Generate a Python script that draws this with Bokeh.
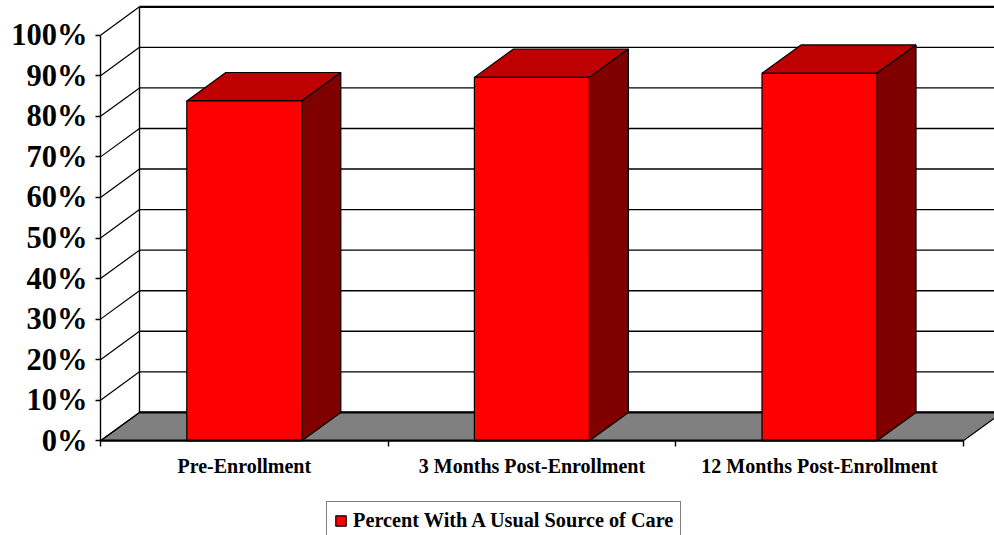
from bokeh.embed import file_html
from bokeh.models import FixedTicker, Legend, LegendItem, Range1d
from bokeh.plotting import figure
from bokeh.resources import INLINE

categories = ["Pre-Enrollment", "3 Months Post-Enrollment", "12 Months Post-Enrollment"]
usual_source_pct = [83.8, 89.6, 90.6]
pct_ticks = [0, 10, 20, 30, 40, 50, 60, 70, 80, 90, 100]
series_name = "Percent With A Usual Source of Care"

# Oblique 3D projection, expressed in axis units
PX_PER_CATEGORY = 287.6
PX_PER_PCT = 4.056
DEPTH_X = 39 / PX_PER_CATEGORY
DEPTH_Y = 28.4 / PX_PER_PCT
BAR_WIDTH = 0.4

FONT = "Liberation Serif"
WIDTH, HEIGHT = 994, 535
ORIGIN_X, ORIGIN_Y = 100, 440.3  # where (0, 0%) falls on the page

p = figure(
    frame_width=WIDTH, frame_height=HEIGHT,
    output_backend="svg", toolbar_location=None,
    min_border_left=0, min_border_right=0, min_border_top=0, min_border_bottom=0,
    x_range=Range1d(-ORIGIN_X / PX_PER_CATEGORY, (WIDTH - ORIGIN_X) / PX_PER_CATEGORY),
    y_range=Range1d(-(HEIGHT - ORIGIN_Y) / PX_PER_PCT, ORIGIN_Y / PX_PER_PCT),
    outline_line_color=None, background_fill_color="white", border_fill_color="white",
)
p.grid.visible = False

n = len(categories)

# Floor
p.patch([0, n, n + DEPTH_X, DEPTH_X], [0, 0, DEPTH_Y, DEPTH_Y],
        fill_color="#808080", line_color="black", line_width=1.2)

# Back wall gridlines and the side-wall diagonals running into them
for t in pct_ticks:
    heavy = t in (0, 100)
    p.line([DEPTH_X, n + DEPTH_X], [t + DEPTH_Y, t + DEPTH_Y],
           line_color="black", line_width=2.2 if heavy else 1.4)
    p.line([0, DEPTH_X], [t, t + DEPTH_Y], line_color="black", line_width=1.2)
p.line([DEPTH_X, DEPTH_X], [DEPTH_Y, 100 + DEPTH_Y], line_color="black", line_width=1.4)

# Bars: front, top and side faces
lefts = [i + 0.5 - BAR_WIDTH / 2 for i in range(n)]
rights = [i + 0.5 + BAR_WIDTH / 2 for i in range(n)]

p.patches(
    [[l, r, r + DEPTH_X, l + DEPTH_X] for l, r in zip(lefts, rights)],
    [[v, v, v + DEPTH_Y, v + DEPTH_Y] for v in usual_source_pct],
    fill_color="#bf0000", line_color="black", line_width=1.2,
)
p.patches(
    [[r, r + DEPTH_X, r + DEPTH_X, r] for r in rights],
    [[0, DEPTH_Y, v + DEPTH_Y, v] for v in usual_source_pct],
    fill_color="#800000", line_color="black", line_width=1.2,
)
front = p.quad(left=lefts, right=rights, bottom=0, top=usual_source_pct,
               fill_color="#ff0000", line_color="black", line_width=1.2)

# Percentage axis, pinned to the left end of the category scale
yax = p.yaxis[0]
yax.fixed_location = 0
yax.ticker = FixedTicker(ticks=pct_ticks)
yax.bounds = (0, 100)
yax.major_label_overrides = {t: f"{t}%" for t in pct_ticks}
yax.major_tick_in = 0
yax.major_tick_out = 5
yax.minor_tick_line_color = None
yax.axis_line_width = 1.4
yax.major_tick_line_width = 1.4
yax.major_label_standoff = 8
yax.major_label_text_font = FONT
yax.major_label_text_font_style = "bold"
yax.major_label_text_font_size = "30.5px"
yax.major_label_text_color = "black"

# Category axis: labels sit mid-slot, tick marks fall on the slot boundaries
xax = p.xaxis[0]
xax.fixed_location = 0
xax.ticker = FixedTicker(ticks=[i + 0.5 for i in range(n)], minor_ticks=list(range(n + 1)))
xax.bounds = (0, n)
xax.major_label_overrides = {i + 0.5: c for i, c in enumerate(categories)}
xax.major_tick_in = 0
xax.major_tick_out = 0
xax.minor_tick_in = 0
xax.minor_tick_out = 6
xax.minor_tick_line_width = 1.4
xax.axis_line_width = 2
xax.major_label_standoff = 8
xax.major_label_text_font = FONT
xax.major_label_text_font_style = "bold"
xax.major_label_text_font_size = "20px"
xax.major_label_text_color = "black"

legend = Legend(
    items=[LegendItem(label=series_name, renderers=[front])],
    location=(326, -5), orientation="horizontal",
    border_line_color="black", border_line_width=1.5,
    background_fill_color="white", background_fill_alpha=1,
    label_text_font=FONT, label_text_font_style="bold", label_text_font_size="20.3px",
    label_text_color="black",
    glyph_width=13, glyph_height=13, label_standoff=6,
    padding=7, margin=0, spacing=0,
)
p.add_layout(legend, "center")

open("out.html", "w").write(file_html(p, INLINE))
